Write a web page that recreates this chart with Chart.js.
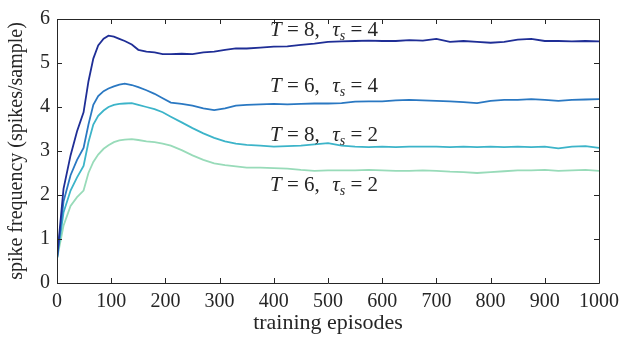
<!DOCTYPE html>
<html lang="en">
<head>
    <meta charset="UTF-8">
    <title>Spike frequency vs training episodes</title>
    <style>
        body { margin: 0; background: #fff; }
        #wrap { width: 642px; height: 339px; }
    </style>
</head>
<body>
    <div id="wrap"><canvas id="spikeChart" width="642" height="339"></canvas></div>

    <script src="https://cdn.jsdelivr.net/npm/chart.js"></script>
    <script>
        const episodes = [0, 12, 25, 37, 49, 58, 67, 76, 86, 95, 105, 115, 125, 138, 150, 165, 180, 195, 210, 230,
            250, 270, 290, 310, 330, 350, 375, 400, 425, 450, 475, 500, 525, 550, 575, 600, 625, 650, 675, 700,
            725, 750, 775, 800, 825, 850, 875, 900, 925, 950, 975, 1000];

        const t8tau4 = [0.55, 2.14, 2.9, 3.45, 3.88, 4.58, 5.1, 5.4, 5.55, 5.62, 5.6, 5.55, 5.5, 5.42, 5.3, 5.26, 5.24, 5.2, 5.2, 5.21,
            5.2, 5.24, 5.26, 5.3, 5.33, 5.33, 5.35, 5.37, 5.38, 5.41, 5.44, 5.48, 5.49, 5.5, 5.51, 5.5, 5.5, 5.52, 5.51, 5.55,
            5.48, 5.5, 5.48, 5.46, 5.48, 5.53, 5.55, 5.5, 5.5, 5.49, 5.5, 5.49];
        const t6tau4 = [0.55, 1.85, 2.45, 2.8, 3.07, 3.6, 4.05, 4.25, 4.36, 4.42, 4.47, 4.51, 4.53, 4.5, 4.45, 4.38, 4.3, 4.2, 4.1, 4.07,
            4.03, 3.97, 3.93, 3.97, 4.03, 4.05, 4.06, 4.07, 4.06, 4.07, 4.08, 4.08, 4.09, 4.12, 4.13, 4.13, 4.15, 4.16, 4.15, 4.14,
            4.13, 4.11, 4.09, 4.14, 4.16, 4.16, 4.18, 4.16, 4.14, 4.16, 4.17, 4.18];
        const t8tau2 = [0.55, 1.6, 2.1, 2.4, 2.66, 3.2, 3.6, 3.8, 3.92, 4.0, 4.05, 4.07, 4.08, 4.09, 4.05, 4.0, 3.95, 3.88, 3.78, 3.65,
            3.52, 3.4, 3.3, 3.22, 3.17, 3.14, 3.12, 3.1, 3.11, 3.12, 3.15, 3.18, 3.12, 3.1, 3.09, 3.1, 3.09, 3.1, 3.1, 3.1,
            3.09, 3.1, 3.09, 3.1, 3.09, 3.1, 3.09, 3.1, 3.06, 3.1, 3.11, 3.07];
        const t6tau2 = [0.55, 1.3, 1.75, 1.95, 2.1, 2.5, 2.75, 2.92, 3.05, 3.13, 3.2, 3.24, 3.26, 3.27, 3.25, 3.22, 3.2, 3.17, 3.12, 3.02,
            2.9, 2.8, 2.72, 2.68, 2.65, 2.62, 2.62, 2.61, 2.6, 2.57, 2.55, 2.56, 2.56, 2.56, 2.57, 2.56, 2.55, 2.55, 2.56, 2.55,
            2.53, 2.52, 2.5, 2.52, 2.54, 2.56, 2.56, 2.57, 2.55, 2.56, 2.57, 2.55];

        const xTicks = [0, 100, 200, 300, 400, 500, 600, 700, 800, 900, 1000];
        const yTicks = [0, 1, 2, 3, 4, 5, 6];

        // curve annotations: [T, tau_s, episode, value]
        const curveLabels = [
            ['8', '4', 393, 5.77],
            ['6', '4', 393, 4.5],
            ['8', '2', 393, 3.38],
            ['6', '2', 393, 2.26]
        ];

        const serif = '"Liberation Serif", "DejaVu Serif", serif';
        const ink = '#262626';

        function toPoints(vals) {
            return episodes.map((e, i) => ({ x: e, y: vals[i] }));
        }

        // box round the plot with inward ticks on all four sides
        const boxPlugin = {
            id: 'box',
            afterDatasetsDraw(chart) {
                const { ctx, chartArea: a, scales: { x, y } } = chart;
                ctx.save();
                ctx.strokeStyle = ink;
                ctx.lineWidth = 1;
                ctx.beginPath();
                ctx.rect(Math.round(a.left) + 0.5, Math.round(a.top) + 0.5,
                    Math.round(a.right) - Math.round(a.left), Math.round(a.bottom) - Math.round(a.top));
                xTicks.forEach(v => {
                    const px = Math.round(x.getPixelForValue(v)) + 0.5;
                    ctx.moveTo(px, a.bottom); ctx.lineTo(px, a.bottom - 5);
                    ctx.moveTo(px, a.top); ctx.lineTo(px, a.top + 5);
                });
                yTicks.forEach(v => {
                    const py = Math.round(y.getPixelForValue(v)) + 0.5;
                    ctx.moveTo(a.left, py); ctx.lineTo(a.left + 5, py);
                    ctx.moveTo(a.right, py); ctx.lineTo(a.right - 5, py);
                });
                ctx.stroke();

                // labels "T = 8,  tau_s = 4"
                ctx.fillStyle = ink;
                ctx.textBaseline = 'alphabetic';
                curveLabels.forEach(([T, tau, ep, val]) => {
                    let px = x.getPixelForValue(ep);
                    const py = y.getPixelForValue(val) + 7;
                    const parts = [
                        ['italic 21px ' + serif, 'T', 0],
                        ['21px ' + serif, ' = ' + T + ',  ', 0],
                        ['italic 21px ' + serif, '\u03c4', 0],
                        ['italic 14px ' + serif, 's', 4],
                        ['21px ' + serif, ' = ' + tau, 0]
                    ];
                    parts.forEach(([font, txt, dy]) => {
                        ctx.font = font;
                        ctx.fillText(txt, px, py + dy);
                        px += ctx.measureText(txt).width + (txt.startsWith(' =') ? 2 : 0);
                    });
                });
                ctx.restore();
            }
        };

        const ctx = document.getElementById('spikeChart').getContext('2d');
        const spikeChart = new Chart(ctx, {
            type: 'line',
            data: {
                datasets: [
                    { label: 'T=8, tau=4', data: toPoints(t8tau4), borderColor: '#1f2e96' },
                    { label: 'T=6, tau=4', data: toPoints(t6tau4), borderColor: '#2a78c2' },
                    { label: 'T=8, tau=2', data: toPoints(t8tau2), borderColor: '#3cb4c9' },
                    { label: 'T=6, tau=2', data: toPoints(t6tau2), borderColor: '#98dbb9' }
                ]
            },
            options: {
                responsive: false,
                animation: false,
                devicePixelRatio: 1,
                layout: { padding: { left: 0, right: 43, top: 13, bottom: 0 } },
                elements: {
                    line: { borderWidth: 1.8, tension: 0, fill: false },
                    point: { radius: 0 }
                },
                plugins: { legend: { display: false }, tooltip: { enabled: false } },
                scales: {
                    x: {
                        type: 'linear', min: 0, max: 1000,
                        grid: { display: false, drawTicks: false },
                        border: { display: false },
                        ticks: {
                            stepSize: 100, padding: 7, maxRotation: 0,
                            color: ink, font: { family: serif, size: 20 },
                            callback: v => String(v)
                        },
                        title: {
                            display: true, text: 'training episodes', color: ink,
                            font: { family: serif, size: 22 }, padding: { top: 0, bottom: 3 }
                        },
                        afterFit: s => { s.height = 56; }
                    },
                    y: {
                        min: 0, max: 6,
                        grid: { display: false, drawTicks: false },
                        border: { display: false },
                        ticks: {
                            stepSize: 1, padding: 7,
                            color: ink, font: { family: serif, size: 20 },
                            callback: v => String(v)
                        },
                        title: {
                            display: true, text: 'spike frequency (spikes/sample)', color: ink,
                            font: { family: serif, size: 20 }, padding: { top: 5, bottom: 0 }
                        },
                        afterFit: s => { s.width = 57; }
                    }
                }
            },
            plugins: [boxPlugin]
        });
    </script>
</body>
</html>
